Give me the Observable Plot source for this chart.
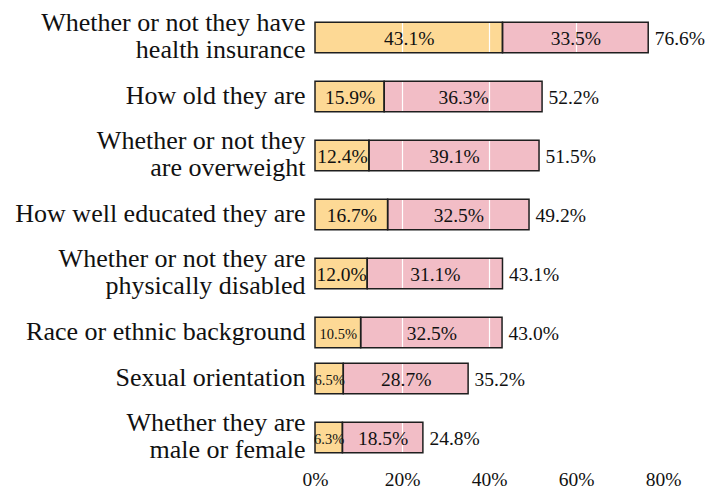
<!DOCTYPE html>
<html>
<head>
<meta charset="utf-8">
<script src="https://cdn.jsdelivr.net/npm/d3@7"></script>
<script src="https://cdn.jsdelivr.net/npm/@observablehq/plot@0.6"></script>
<style>
  html, body { margin: 0; padding: 0; background: #fff; }
  svg { display: block; }
</style>
</head>
<body>
<div id="chart"></div>
<script>
const categories = [
  "Whether or not they have\nhealth insurance",
  "How old they are",
  "Whether or not they\nare overweight",
  "How well educated they are",
  "Whether or not they are\nphysically disabled",
  "Race or ethnic background",
  "Sexual orientation",
  "Whether they are\nmale or female"
];
const yellowValues = [43.1, 15.9, 12.4, 16.7, 12.0, 10.5, 6.5, 6.3];
const pinkValues   = [33.5, 36.3, 39.1, 32.5, 31.1, 32.5, 28.7, 18.5];
const totals       = [76.6, 52.2, 51.5, 49.2, 43.1, 43.0, 35.2, 24.8];
const xTicks = [0, 20, 40, 60, 80];

// Row layout: rows with two-line labels get more room
const rowSizes = categories.map(c => c.split("\n").length + 0.77);
const cum = d3.cumsum(rowSizes);
const totalSize = cum[cum.length - 1];
const rows = categories.map((label, i) => ({
  label,
  yellow: yellowValues[i],
  pink: pinkValues[i],
  total: totals[i],
  yc: cum[i] - rowSizes[i] / 2
}));
const half = 0.587;

const segments = rows.flatMap(r => [
  {series: "a", x1: 0, x2: r.yellow, y1: r.yc - half, y2: r.yc + half, v: r.yellow, yc: r.yc},
  {series: "b", x1: r.yellow, x2: r.yellow + r.pink, y1: r.yc - half, y2: r.yc + half, v: r.pink, yc: r.yc}
]);
const fmt = v => v.toFixed(1) + "%";

const chart = Plot.plot({
  width: 722,
  height: 490,
  marginLeft: 315,
  marginRight: 59,
  marginTop: 1.5,
  marginBottom: 16.5,
  style: {fontFamily: "'Liberation Serif', serif", background: "#fff", color: "#111"},
  x: {domain: [0, 80], axis: null},
  y: {domain: [0, totalSize], reverse: true, axis: null},
  color: {domain: ["a", "b"], range: ["#fdd995", "#f2bdc6"], legend: false},
  marks: [
    Plot.rect(segments, {x1: "x1", x2: "x2", y1: "y1", y2: "y2", fill: "series"}),
    Plot.ruleX([20, 40, 60], {stroke: "#fff", strokeWidth: 1.2}),
    Plot.rect(segments, {x1: "x1", x2: "x2", y1: "y1", y2: "y2", fill: "none", stroke: "#1e1e1e", strokeWidth: 1.5}),
    Plot.text(segments.filter(d => d.v >= 11), {
      x: d => (d.x1 + d.x2) / 2, y: "yc", text: d => fmt(d.v),
      fontSize: 19.5, fill: "#111", dy: 1
    }),
    Plot.text(segments.filter(d => d.v < 11), {
      x: d => (d.x1 + d.x2) / 2, y: "yc", text: d => fmt(d.v),
      fontSize: 14.5, fill: "#111", dy: 1
    }),
    Plot.text(rows, {
      x: "total", y: "yc", text: d => fmt(d.total),
      textAnchor: "start", dx: 6, dy: 1, fontSize: 19.5, fill: "#111"
    }),
    Plot.text(rows, {
      x: 0, y: "yc", text: "label",
      textAnchor: "end", dx: -10, dy: -2, lineHeight: 1.03, fontSize: 26, fill: "#111"
    }),
    Plot.axisX(xTicks, {
      tickFormat: d => d + "%", tickSize: 0, tickPadding: -2,
      fontSize: 19.5, label: null, fill: "#111"
    })
  ]
});
document.getElementById("chart").appendChild(chart);
</script>
</body>
</html>
